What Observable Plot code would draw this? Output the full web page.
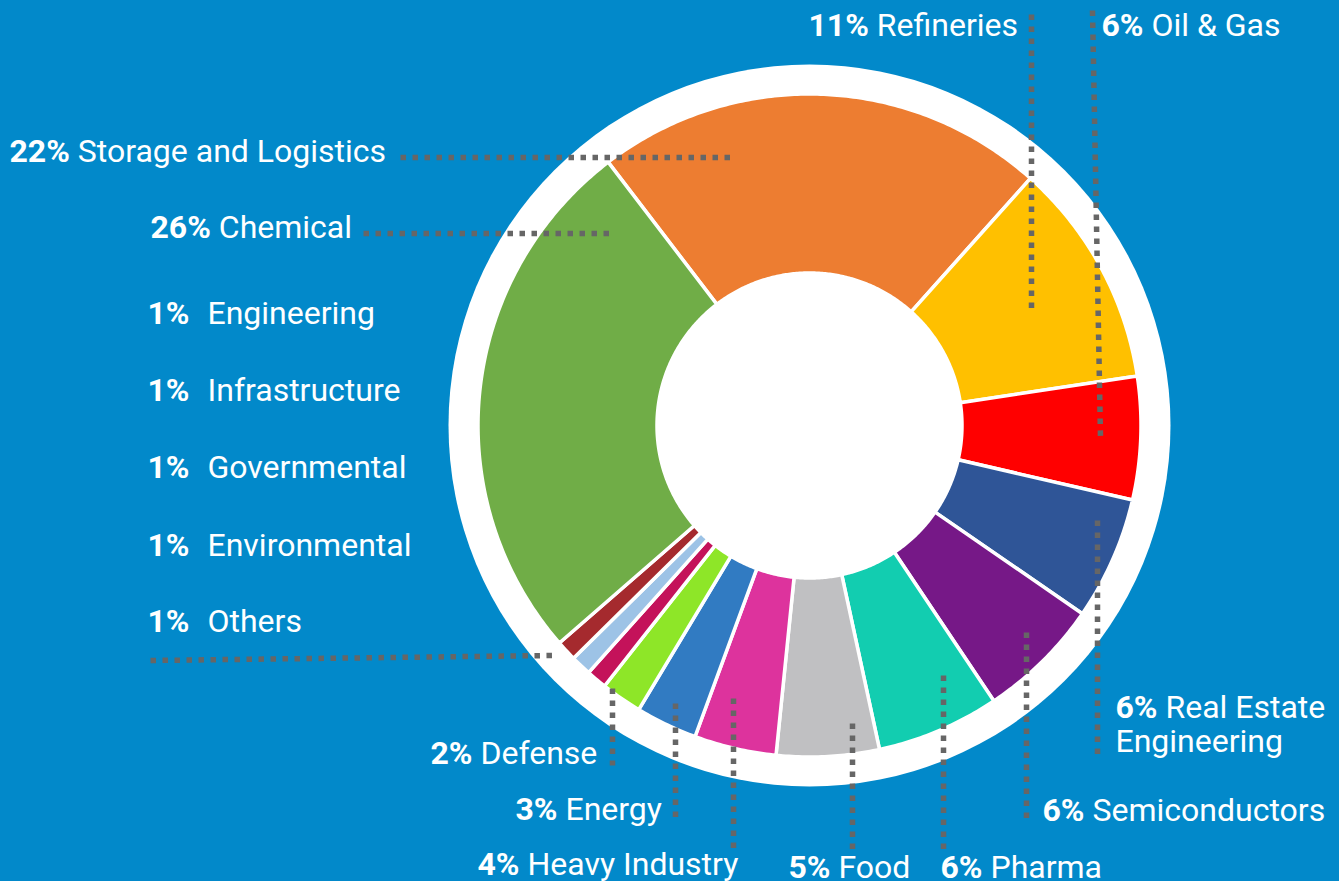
<!DOCTYPE html>
<html>
<head>
<meta charset="utf-8">
<script src="https://cdn.jsdelivr.net/npm/d3@7"></script>
<script src="https://cdn.jsdelivr.net/npm/@observablehq/plot@0.6"></script>
<style>
  html, body { margin: 0; padding: 0; background: #0289CA; overflow: hidden; }
  #chart svg { display: block; }
</style>
</head>
<body>
<div id="chart"></div>
<script>
// ---------- DATA ----------
// Slices, clockwise starting with the orange one
const categories = ["Storage and Logistics", "Refineries", "Oil & Gas", "Real Estate Engineering", "Semiconductors", "Pharma", "Food", "Heavy Industry", "Energy", "Defense", "Governmental", "Environmental", "Others", "Chemical"];
const shares = [22, 11, 6, 6, 6, 6, 5, 4, 3, 2, 1, 1, 1, 26];
const sliceColors = ["#ED7D31", "#FFC000", "#FF0000", "#2F5597", "#761887", "#12CDB0", "#C0C0C2", "#DD339D", "#317BC2", "#8EE628", "#C4125A", "#9DC3E6", "#A52A2E", "#70AD47"];

// Annotated labels (percent + name)
const labelPcts = ["22%", "26%", "11%", "6%", "6%", "6%", "6%", "5%", "4%", "3%", "2%"];
const labelNames = ["Storage and Logistics", "Chemical", "Refineries", "Oil & Gas", "Real Estate\nEngineering", "Semiconductors", "Pharma", "Food", "Heavy Industry", "Energy", "Defense"];

// Left-hand list of small sectors
const listPcts = ["1%", "1%", "1%", "1%", "1%"];
const listNames = ["Engineering", "Infrastructure", "Governmental", "Environmental", "Others"];

// ---------- LAYOUT ----------
const W = 1339, H = 881;
const cx = 809, cy = 425;
const ringR = 361, outerR = 331.5, innerR = 152.5;
const startDeg = -37.4;
const labelPos = [[9, 161], [150, 237], [808, 35], [1101, 35], [1115, 751], [1042, 820], [940, 877], [788, 877], [477, 874], [515, 819], [430, 763]];
const listPctX = 189, listNameX = 207;
const listY = [323, 400, 477, 555, 631];
const leaders = [
  [400, 157, 733, 157], [363, 233, 612, 233], [1031, 14, 1031, 312], [1092, 10, 1100, 437],
  [1097, 520, 1097, 757], [1026, 632, 1026, 820], [943, 675, 943, 850], [852, 723, 852, 850],
  [733, 698, 733, 850], [675, 703, 675, 818], [612, 688, 612, 765], [150, 660, 552, 655]
];

// ---------- BUILD ----------
const sliceData = categories.map((c, i) => ({category: c, share: shares[i], color: sliceColors[i]}));
const a0 = startDeg * Math.PI / 180;
const arcs = d3.pie().sort(null).value(d => d.share).startAngle(a0).endAngle(a0 + 2 * Math.PI)(sliceData);

const slicePoints = [];
for (const a of arcs) {
  const n = Math.max(4, Math.ceil((a.endAngle - a.startAngle) / 0.01));
  const pts = [];
  for (let k = 0; k <= n; k++) {
    const t = a.startAngle + (a.endAngle - a.startAngle) * k / n;
    pts.push({r: outerR, t});
  }
  for (let k = n; k >= 0; k--) {
    const t = a.startAngle + (a.endAngle - a.startAngle) * k / n;
    pts.push({r: innerR, t});
  }
  for (const p of pts) {
    slicePoints.push({
      category: a.data.category,
      color: a.data.color,
      x: cx + p.r * Math.sin(p.t),
      y: cy - p.r * Math.cos(p.t)
    });
  }
}

const labels = labelPcts.map((p, i) => ({text: p + " " + labelNames[i], x: labelPos[i][0], y: labelPos[i][1]}));
const listRows = listNames.map((n, i) => ({pct: listPcts[i], name: n, y: listY[i]}));
const leaderPts = leaders.flatMap((l, i) => [{id: i, x: l[0], y: l[1]}, {id: i, x: l[2], y: l[3]}]);

const textStyle = {fill: "white", fontSize: 32, fontFamily: "Roboto", lineAnchor: "bottom"};

const svg = Plot.plot({
  width: W,
  height: H,
  margin: 0,
  x: {domain: [0, W], range: [0, W], axis: null},
  y: {domain: [0, H], range: [0, H], axis: null},
  style: {background: "#0289CA", fontFamily: "Roboto"},
  marks: [
    Plot.dot([{x: cx, y: cy}], {x: "x", y: "y", r: ringR, fill: "white", stroke: "none"}),
    Plot.line(slicePoints, {x: "x", y: "y", z: "category", fill: "color", stroke: "white", strokeWidth: 3.5, strokeLinejoin: "round", curve: "linear-closed"}),
    Plot.line(leaderPts, {x: "x", y: "y", z: "id", stroke: "#666666", strokeWidth: 5.5, strokeDasharray: "5.5,6.5", strokeLinecap: "butt"}),
    Plot.text(labels, {x: "x", y: "y", text: "text", textAnchor: "start", lineHeight: 1.06, ...textStyle}),
    Plot.text(listRows, {x: () => listPctX, y: "y", text: "pct", textAnchor: "end", fontWeight: "bold", ...textStyle}),
    Plot.text(listRows, {x: () => listNameX, y: "y", text: "name", textAnchor: "start", ...textStyle})
  ]
});

// bold percentage inside combined labels
d3.select(svg).selectAll("text").each(function() {
  const target = this.querySelector("tspan") || this;
  const s = target.textContent;
  const m = s.match(/^(\d+%)\s(.+)$/);
  if (!m) return;
  target.textContent = "";
  d3.select(target).append("tspan").attr("font-weight", "bold").text(m[1]);
  d3.select(target).append("tspan").text(" " + m[2]);
});

document.getElementById("chart").appendChild(svg);
</script>
</body>
</html>
